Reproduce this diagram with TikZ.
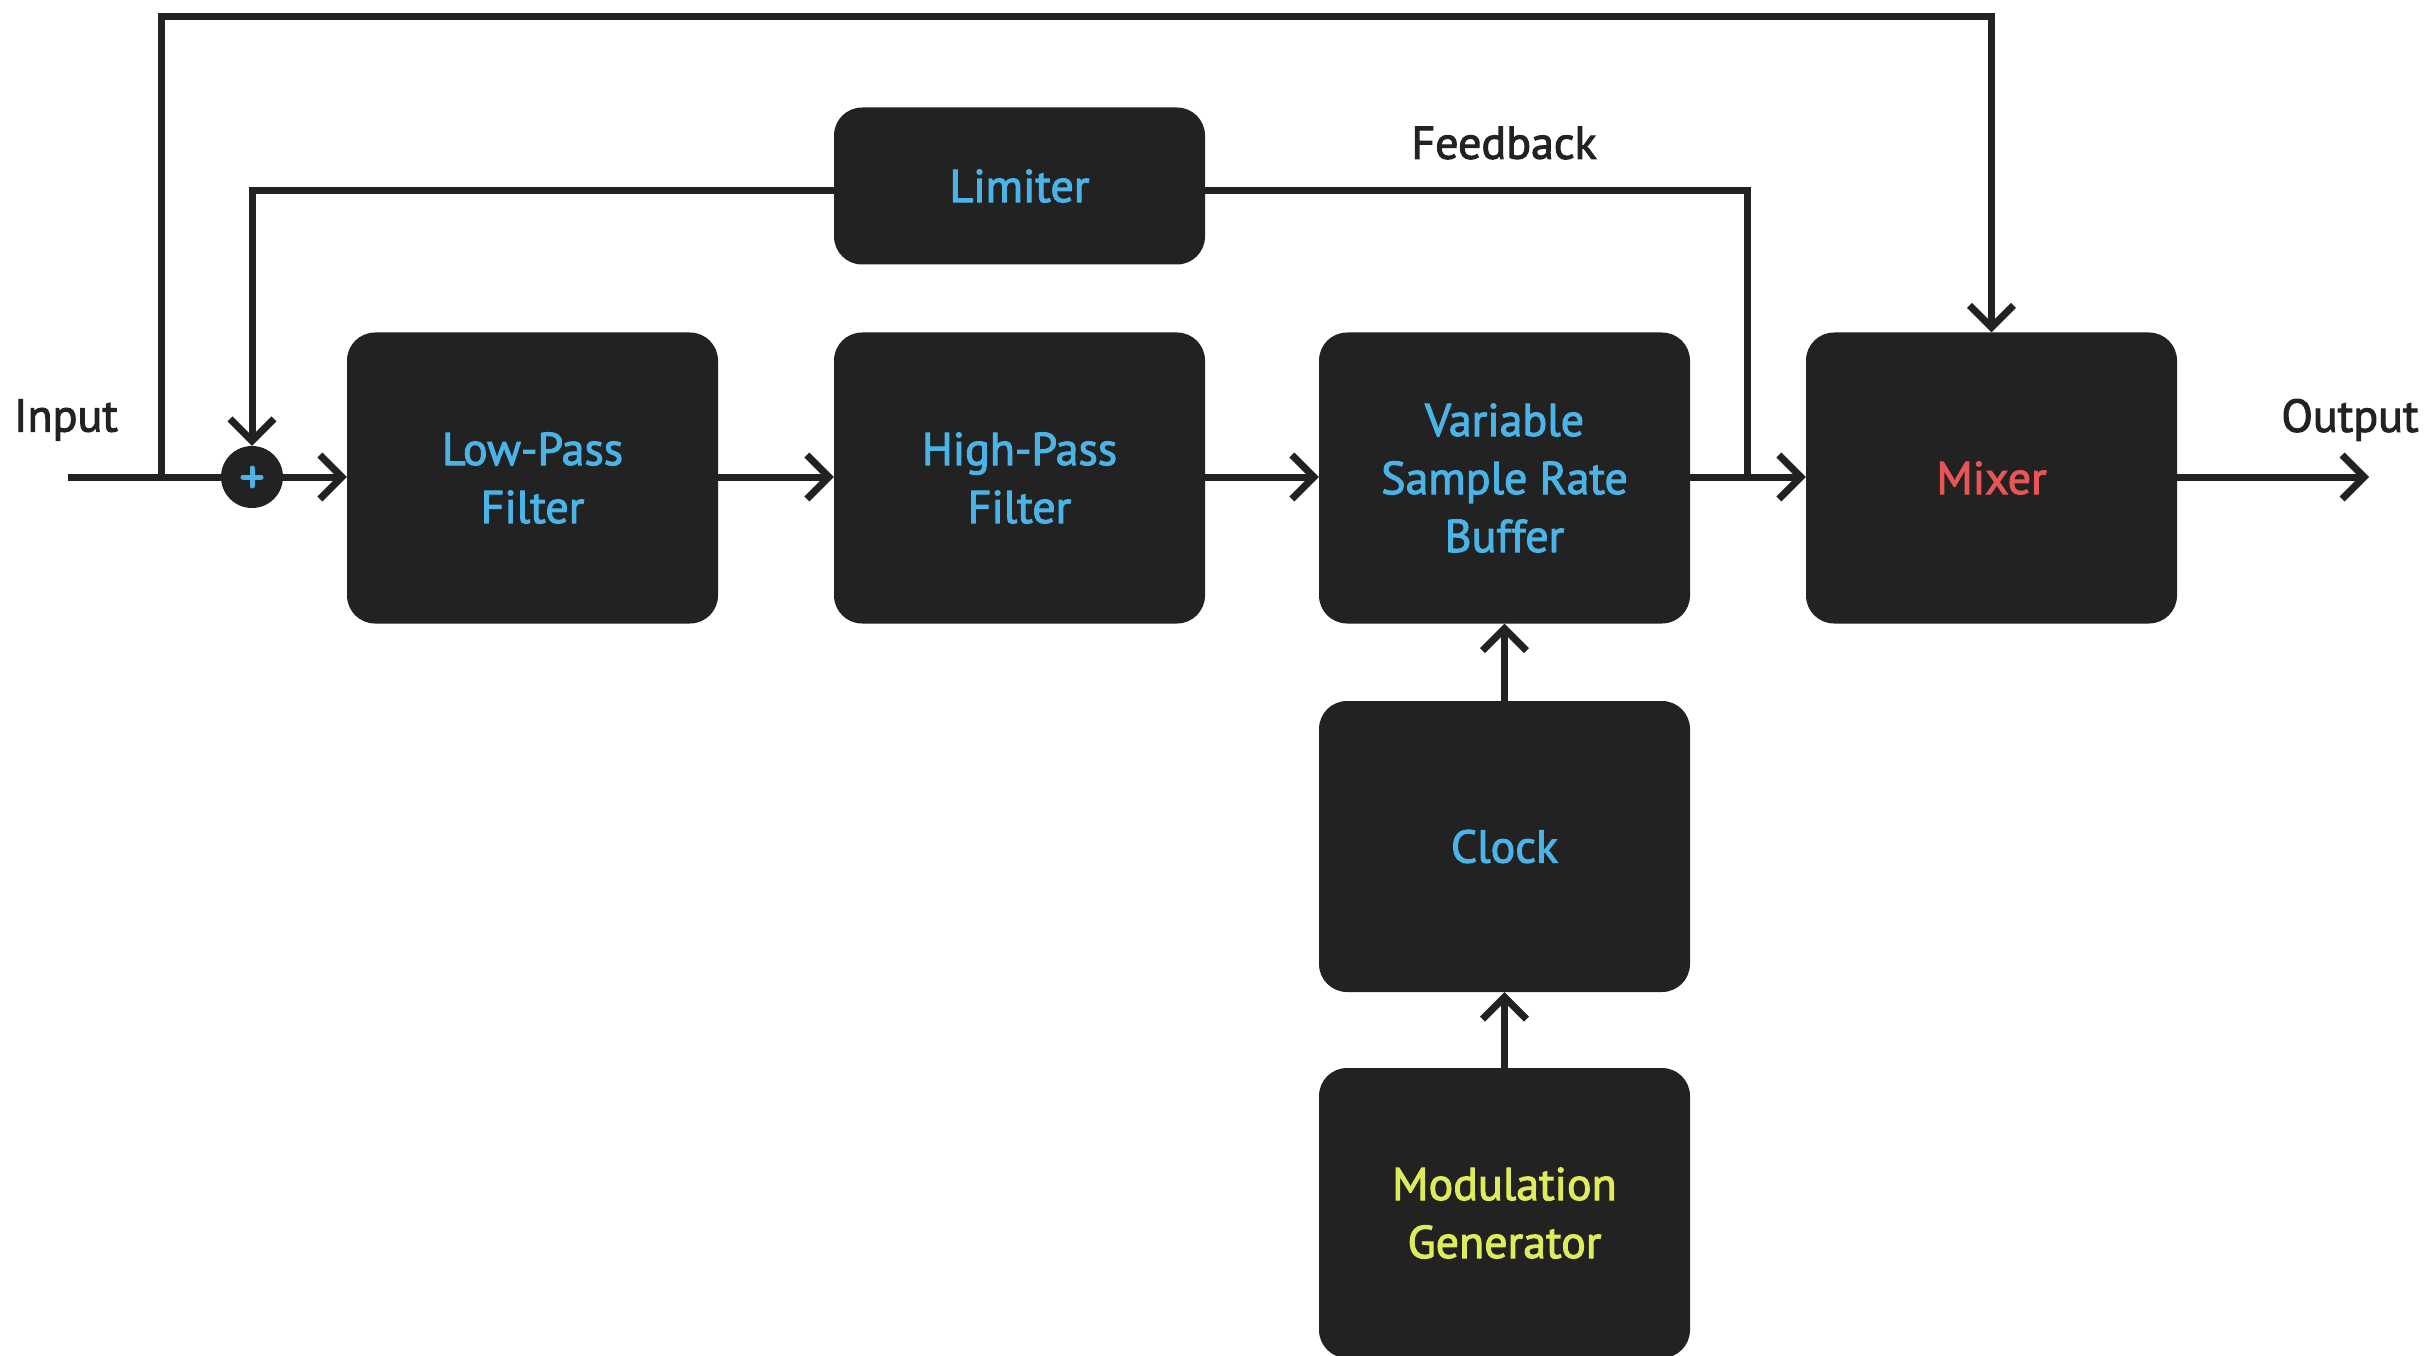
\documentclass[tikz,border=0pt]{standalone}
\usepackage{fontspec}
\setmainfont{PT Sans}[FakeBold=2.2]
\usetikzlibrary{arrows.meta}
\definecolor{boxfill}{HTML}{222222}
\definecolor{inkdark}{HTML}{222222}
\definecolor{txtblue}{HTML}{4AB4E8}
\definecolor{txtred}{HTML}{E85555}
\definecolor{txtyellow}{HTML}{DEEB5A}
\tikzset{
  block/.style={fill=boxfill, draw=none, rounded corners=28pt, minimum width=371pt,
    minimum height=291pt, inner sep=0pt, align=center, text=txtblue,
    font=\fontsize{46}{58}\selectfont},
  wire/.style={draw=inkdark, line width=7pt},
  arr/.style={wire, -{Straight Barb[length=22pt,width=44pt]}},
  lbl/.style={text=inkdark, font=\fontsize{46}{58}\selectfont, inner sep=0pt}
}
\begin{document}
\begin{tikzpicture}[x=1pt, y=-1pt]
\useasboundingbox (0,0) rectangle (2431,1356);

% processing blocks
\node[block] (lpf)  at (532.5, 478) {Low-Pass\\Filter};
\node[block] (hpf)  at (1019.5, 478) {High-Pass\\Filter};
\node[block] (vsrb) at (1504.5, 478) {Variable\\Sample Rate\\Buffer};
\node[block, text=txtred] (mix) at (1991.5, 478) {Mixer};
\node[block, minimum height=157pt] (lim) at (1019.5, 186) {Limiter};
\node[block] (clk) at (1504.5, 846.5) {Clock};
\node[block, minimum height=290pt, text=txtyellow] (mod) at (1504.5, 1213) {Modulation\\Generator};

% summing junction
\node[circle, fill=boxfill, minimum size=62pt, inner sep=0pt] (sum) at (252, 477) {};
\draw[txtblue, line width=5pt, line cap=round]
  ([xshift=-9pt]sum.center) -- ([xshift=9pt]sum.center)
  ([yshift=-9pt]sum.center) -- ([yshift=9pt]sum.center);

% free ends and junctions
\coordinate (in)      at (68, 477);
\coordinate (tap)     at (161, 477);
\coordinate (out)     at (2369, 477);
\coordinate (fbj)     at (1747, 477);
\coordinate (limrow)  at (0, 191);
\coordinate (mainrow) at (0, 477);

% labels
\node[lbl] (inlbl)  at (66, 420) {Input};
\node[lbl] (outlbl) at (2350, 420) {Output};
\node[lbl] (fblbl)  at (1504, 143) {Feedback};

% signal path
\draw[wire] (in) -- (sum.west);
\draw[arr] (sum.east) -- (lpf.west |- mainrow);
\draw[arr] (lpf.east |- mainrow) -- (hpf.west |- mainrow);
\draw[arr] (hpf.east |- mainrow) -- (vsrb.west |- mainrow);
\draw[arr] (vsrb.east |- mainrow) -- (mix.west |- mainrow);
\draw[arr] (mix.east |- mainrow) -- (out);

% dry bypass to the mixer
\draw[arr] (tap) -- (161, 17) -| (mix.north);

% feedback through the limiter
\draw[wire] (fbj) |- (lim.east |- limrow);
\draw[arr] (lim.west |- limrow) -| (sum.north);

% clock chain
\draw[arr] (clk.north) -- (vsrb.south);
\draw[arr] (mod.north) -- (clk.south);
\end{tikzpicture}
\end{document}
